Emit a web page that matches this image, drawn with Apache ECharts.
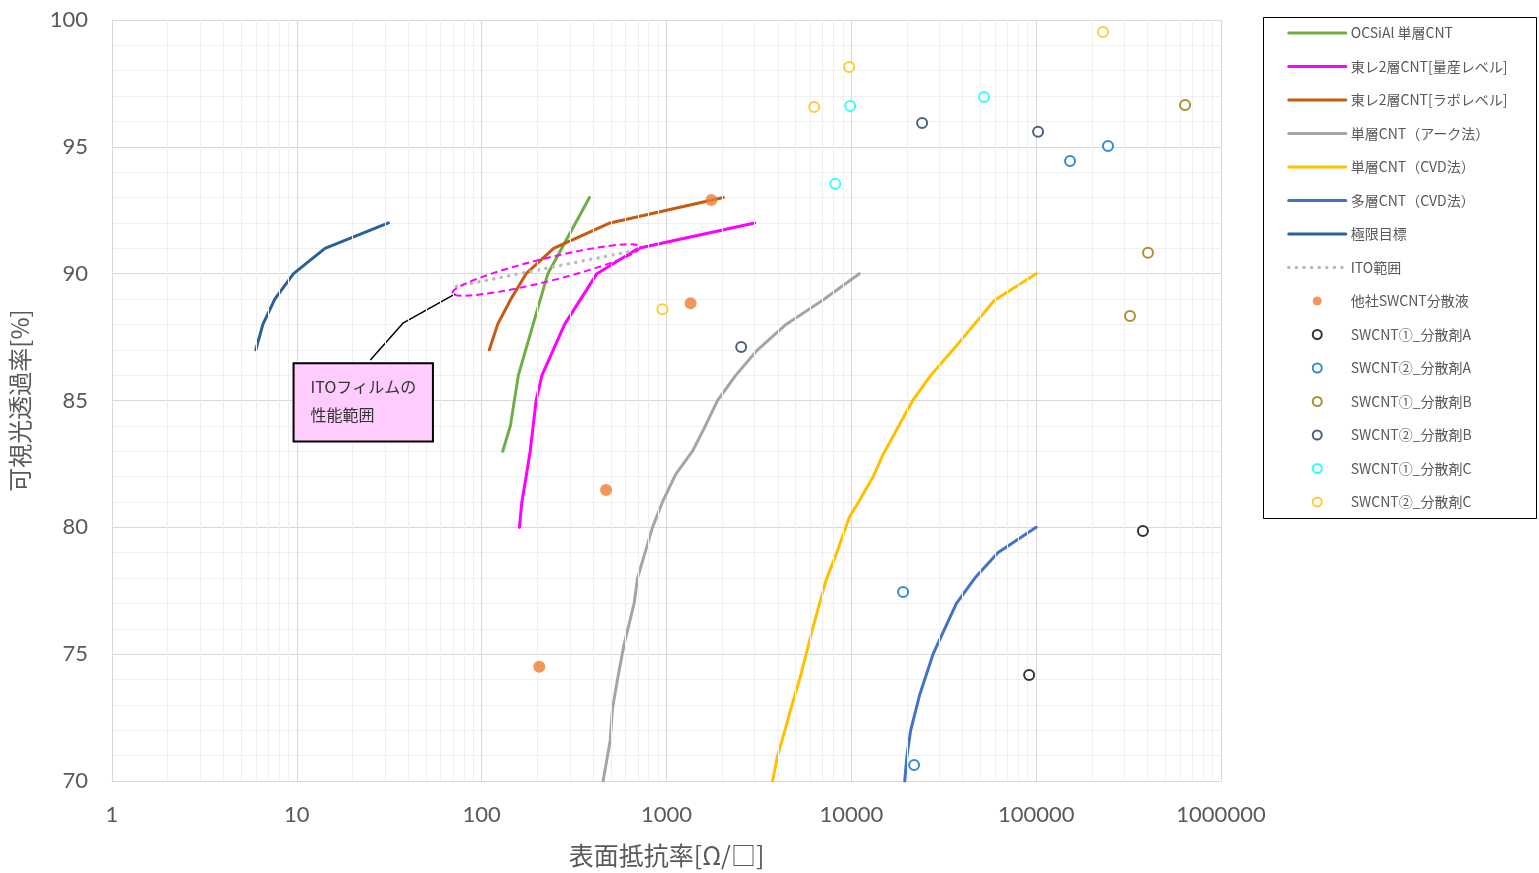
<!DOCTYPE html>
<html><head><meta charset="utf-8">
<script src="https://cdn.jsdelivr.net/npm/echarts@6/dist/echarts.min.js"></script>
<style>html,body{margin:0;padding:0;background:#fff}#c{width:1539px;height:873px}</style>
</head><body><div id="c"></div>
<script>
// ---- axis ticks ----
const X_TICKS = [1, 10, 100, 1000, 10000, 100000, 1000000];
const Y_TICKS = [70, 75, 80, 85, 90, 95, 100];
const X_MINOR_MULT = [2, 3, 4, 5, 6, 7, 8, 9];

// ---- line series [resistance, transmittance] ----
const OCSIAL = [[130,83],[143,84],[158,86],[228,90],[383,93]];
const TORAY_MASS = [[160,80],[165,81],[174,82],[183,83],[190,84],[197,85],[212,86],[244,87],[281,88],[420,90],[705,91],[3000,92]];
const TORAY_LAB = [[110,87],[122,88],[144,89],[174,90],[245,91],[495,92],[2030,93]];
const ARC = [[454,70],[496,71.6],[510,72.85],[543,74],[590,75.4],[668,77],[697,78],[840,80],[951,81],[1123,82.1],[1382,83],[1599,83.9],[1888,85],[2373,86],[3111,87],[4429,88],[6995,88.95],[11040,90]];
const CVD_SW = [[3750,70],[3990,71],[4335,71.9],[4710,72.85],[5340,74.2],[6170,76],[7290,77.9],[8430,79.1],[9750,80.4],[10820,80.94],[13040,81.96],[14780,82.84],[21470,85],[26970,86],[38430,87.3],[59450,88.95],[100000,90]];
const CVD_MW = [[19450,70],[20000,71],[20940,72],[23440,73.4],[27670,75],[37040,77],[46600,78],[62000,79],[100000,80]];
const LIMIT = [[6,87],[6.55,88],[7.6,89],[9.6,90],[14.2,91],[31.3,92]];
const ITO = [[73,89.5],[660,90.9]];

// ---- scatter series ----
const OTHER = [[1750,92.9],[1350,88.83],[471,81.47],[205,74.5]];
const SW1_A = [[378000,79.86],[91600,74.18]];
const SW2_A = [[19050,77.45],[21850,70.63],[152500,94.44],[244700,95.03]];
const SW1_B = [[639000,96.65],[402800,90.82],[321900,88.33]];
const SW2_B = [[24150,95.94],[102400,95.59],[2535,87.11]];
const SW1_C = [[9860,96.61],[8185,93.54],[52250,96.96]];
const SW2_C = [[230000,99.53],[9730,98.15],[6300,96.57],[950,88.6]];

// ---- annotation anchors (data coords) ----
const CALLOUT_LINE = [[25,86.6],[37.5,88.05],[72,89.2]];
const ELLIPSE_ENDS = [[69.5,89.23],[720,91.06]];
const CALLOUT_BOX = [[9.6,86.47],[54.5,83.38]];
const CALLOUT_TEXT = 'ITOフィルムの\n性能範囲';

const FONT = "Lato, 'Noto Sans CJK JP', sans-serif";
const CJK = "'Noto Sans CJK JP', sans-serif";

const minorX = [];
X_TICKS.slice(0, -1).forEach(d => X_MINOR_MULT.forEach(m => minorX.push(d * m)));

function lineS(name, data, color, extra) {
  return Object.assign({
    name, type: 'line', data, symbol: 'none', z: 3,
    lineStyle: { color, width: 3, cap: 'round', join: 'round' }, itemStyle: { color },
    silent: true
  }, extra || {});
}
function ringS(name, data, color) {
  return {
    name, type: 'scatter', data, symbol: 'circle', symbolSize: 10, z: 5,
    itemStyle: { color: '#fff', borderColor: color, borderWidth: 2 }, silent: true
  };
}

const chart = echarts.init(document.getElementById('c'));
const legendNames = ['OCSiAl 単層CNT','東レ2層CNT[量産レベル]','東レ2層CNT[ラボレベル]','単層CNT（アーク法）','単層CNT（CVD法）','多層CNT（CVD法）','極限目標','ITO範囲','他社SWCNT分散液','SWCNT①_分散剤A','SWCNT②_分散剤A','SWCNT①_分散剤B','SWCNT②_分散剤B','SWCNT①_分散剤C','SWCNT②_分散剤C'];
const LINE_COUNT = 8;

chart.setOption({
  animation: false,
  backgroundColor: '#fff',
  textStyle: { fontFamily: FONT },
  grid: { left: 112, right: 318, top: 20, bottom: 92, containLabel: false },
  legend: {
    orient: 'vertical', left: 1282, top: 21,
    itemWidth: 57, itemHeight: 9, itemGap: 19.5,
    data: legendNames.map((n, i) => i < LINE_COUNT ? { name: n, itemStyle: { opacity: 0 } } : { name: n }),
    lineStyle: { width: 'inherit' },
    textStyle: { fontFamily: CJK, fontSize: 14, color: '#595959', lineHeight: 14 },
    selectedMode: false
  },
  xAxis: {
    type: 'log', logBase: 10, min: X_TICKS[0], max: X_TICKS[X_TICKS.length - 1],
    splitNumber: 6,
    name: '表面抵抗率[Ω/□]', nameLocation: 'middle', nameGap: 62,
    nameTextStyle: { fontFamily: CJK, fontSize: 25, color: '#595959' },
    axisLine: { show: true, lineStyle: { color: '#D9D9D9', width: 1 } },
    axisTick: { show: false },
    axisLabel: { fontSize: 22, color: '#595959', margin: 23,
      formatter: v => { const r = Math.round(v); return X_TICKS.indexOf(r) >= 0 ? String(r) : ''; } },
    splitLine: { show: true, lineStyle: { color: '#D9D9D9', width: 1 } }
  },
  yAxis: {
    type: 'value', min: Y_TICKS[0], max: Y_TICKS[Y_TICKS.length - 1], interval: 5,
    name: '可視光透過率[%]', nameLocation: 'middle', nameGap: 80, nameRotate: 90,
    nameTextStyle: { fontFamily: CJK, fontSize: 24, color: '#595959' },
    axisLine: { show: true, lineStyle: { color: '#D9D9D9', width: 1 } },
    axisTick: { show: false },
    axisLabel: { fontSize: 22, color: '#595959', margin: 24 },
    splitLine: { show: true, lineStyle: { color: '#D9D9D9', width: 1 } },
    minorTick: { show: false, splitNumber: 5 },
    minorSplitLine: { show: true, lineStyle: { color: '#F0F0F0', width: 1 } }
  },
  series: [
    { name: '_grid', type: 'line', data: [], z: 1, silent: true,
      markLine: { silent: true, symbol: ['none', 'none'], label: { show: false },
        lineStyle: { color: '#EFEFEF', width: 1, type: 'solid' },
        data: minorX.map(v => ({ xAxis: v })) } },
    lineS(legendNames[0], OCSIAL, '#70AD47'),
    lineS(legendNames[1], TORAY_MASS, '#FF00FF'),
    lineS(legendNames[2], TORAY_LAB, '#C55A11'),
    lineS(legendNames[3], ARC, '#A5A5A5'),
    lineS(legendNames[4], CVD_SW, '#FFC000'),
    lineS(legendNames[5], CVD_MW, '#4472C4'),
    lineS(legendNames[6], LIMIT, '#2A6199'),
    lineS(legendNames[7], ITO, '#BBBBBB', { lineStyle: { color: '#BBBBBB', width: 3.5, type: [0.1, 7.5], cap: 'round' } }),
    { name: '_callout', type: 'line', data: CALLOUT_LINE, symbol: 'none', z: 3, silent: true,
      lineStyle: { color: '#000', width: 1.5, join: 'round' } },
    { name: legendNames[8], type: 'scatter', data: OTHER, symbol: 'circle', symbolSize: 12, z: 5, silent: true,
      itemStyle: { color: '#ED7D31' } },
    ringS(legendNames[9], SW1_A, '#000000'),
    ringS(legendNames[10], SW2_A, '#0070C0'),
    ringS(legendNames[11], SW1_B, '#997300'),
    ringS(legendNames[12], SW2_B, '#203864'),
    ringS(legendNames[13], SW1_C, '#00FFFF'),
    ringS(legendNames[14], SW2_C, '#FFC000')
  ]
});

function px(p) { return chart.convertToPixel({ xAxisIndex: 0, yAxisIndex: 0 }, p); }
const ea = px(ELLIPSE_ENDS[0]), eb = px(ELLIPSE_ENDS[1]);
const ecx = (ea[0] + eb[0]) / 2, ecy = (ea[1] + eb[1]) / 2;
const erx = Math.hypot(eb[0] - ea[0], eb[1] - ea[1]) / 2;
const erot = Math.atan2(ea[1] - eb[1], eb[0] - ea[0]);
const b0 = px(CALLOUT_BOX[0]), b1 = px(CALLOUT_BOX[1]);

chart.setOption({
  graphic: [
    { type: 'ellipse', x: ecx, y: ecy, rotation: erot, z: 100, silent: true,
      shape: { cx: 0, cy: 0, rx: erx, ry: 11.5 },
      style: { fill: 'none', stroke: '#FF00FF', lineWidth: 2, lineDash: [7, 4] } },
    { type: 'rect', z: 100, silent: true,
      shape: { x: b0[0], y: b0[1], width: b1[0] - b0[0], height: b1[1] - b0[1] },
      style: { fill: '#FFCCFF', stroke: '#000', lineWidth: 2 } },
    { type: 'text', z: 101, silent: true, x: b0[0] + 17, y: b0[1] + 10,
      style: { text: CALLOUT_TEXT, fontSize: 16, lineHeight: 28, fill: '#333', fontFamily: CJK, align: 'left', verticalAlign: 'top' } },
    { type: 'rect', z: 100, silent: true,
      shape: { x: 1263.5, y: 17.5, width: 273, height: 501 },
      style: { fill: 'none', stroke: '#000', lineWidth: 1 } }
  ]
});
</script>
</body></html>
